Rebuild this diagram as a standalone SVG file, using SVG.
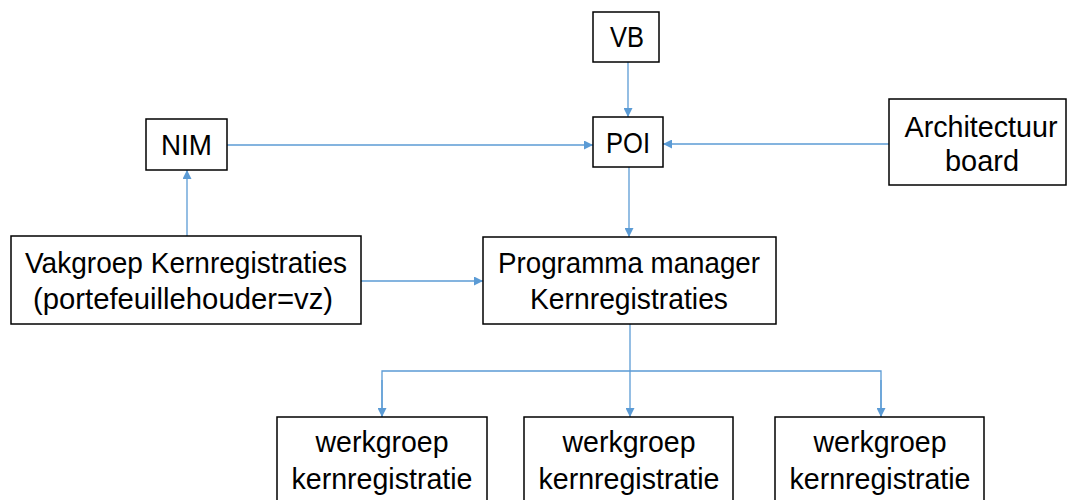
<svg xmlns="http://www.w3.org/2000/svg" width="1068" height="500" viewBox="0 0 1068 500">
<style>
.box{fill:#fff;stroke:#000;stroke-width:1.5}
.lbl{font-family:"Liberation Sans",Arial,sans-serif;font-size:29px;fill:#000;text-anchor:middle}
.con{fill:none;stroke:#5B9BD5;stroke-width:1.3}
</style>
<defs>
<marker id="ah" viewBox="0 0 10 10" refX="10" refY="5" markerWidth="10" markerHeight="9" markerUnits="userSpaceOnUse" orient="auto">
<path d="M0,0 L10,5 L0,10 Z" fill="#5B9BD5"/>
</marker>
</defs>
<rect width="1068" height="500" fill="#fff"/>
<g id="connectors">
<line class="con" x1="628" y1="62" x2="628" y2="117" marker-end="url(#ah)"/>
<line class="con" x1="227" y1="145" x2="593" y2="145" marker-end="url(#ah)"/>
<line class="con" x1="889" y1="144" x2="663" y2="144" marker-end="url(#ah)"/>
<line class="con" x1="629" y1="167" x2="629" y2="237" marker-end="url(#ah)"/>
<line class="con" x1="187" y1="236" x2="187" y2="170" marker-end="url(#ah)"/>
<line class="con" x1="361" y1="281" x2="483" y2="281" marker-end="url(#ah)"/>
<line class="con" x1="630" y1="324" x2="630" y2="417" marker-end="url(#ah)"/>
<polyline class="con" points="382,417 382,371 881,371 881,417"/>
<line class="con" x1="382" y1="380" x2="382" y2="417" marker-end="url(#ah)"/>
<line class="con" x1="881" y1="380" x2="881" y2="417" marker-end="url(#ah)"/>
</g>
<g id="vb">
<rect class="box" x="593" y="12" width="66" height="50"/>
<text class="lbl" x="627" y="47" textLength="34" lengthAdjust="spacingAndGlyphs">VB</text>
</g>
<g id="poi">
<rect class="box" x="593" y="117" width="70" height="50"/>
<text class="lbl" x="628" y="153" textLength="44" lengthAdjust="spacingAndGlyphs">POI</text>
</g>
<g id="nim">
<rect class="box" x="146" y="119" width="81" height="51"/>
<text class="lbl" x="186.5" y="155" textLength="51" lengthAdjust="spacingAndGlyphs">NIM</text>
</g>
<g id="architectuur">
<rect class="box" x="889" y="99" width="177" height="86"/>
<text class="lbl" x="981" y="137" textLength="153" lengthAdjust="spacingAndGlyphs">Architectuur</text>
<text class="lbl" x="982" y="171" textLength="74" lengthAdjust="spacingAndGlyphs">board</text>
</g>
<g id="vakgroep">
<rect class="box" x="11" y="236" width="350" height="88"/>
<text class="lbl" x="186" y="273" textLength="322" lengthAdjust="spacingAndGlyphs">Vakgroep Kernregistraties</text>
<text class="lbl" x="183" y="309" textLength="300" lengthAdjust="spacingAndGlyphs">(portefeuillehouder=vz)</text>
</g>
<g id="programma">
<rect class="box" x="483" y="237" width="293" height="87"/>
<text class="lbl" x="629" y="273" textLength="262" lengthAdjust="spacingAndGlyphs">Programma manager</text>
<text class="lbl" x="629" y="309" textLength="198" lengthAdjust="spacingAndGlyphs">Kernregistraties</text>
</g>
<g id="werkgroep1">
<rect class="box" x="277" y="417" width="210" height="95"/>
<text class="lbl" x="382" y="452" textLength="133" lengthAdjust="spacingAndGlyphs">werkgroep</text>
<text class="lbl" x="382" y="489" textLength="181" lengthAdjust="spacingAndGlyphs">kernregistratie</text>
</g>
<g id="werkgroep2">
<rect class="box" x="524" y="417" width="209" height="95"/>
<text class="lbl" x="629" y="452" textLength="133" lengthAdjust="spacingAndGlyphs">werkgroep</text>
<text class="lbl" x="629" y="489" textLength="181" lengthAdjust="spacingAndGlyphs">kernregistratie</text>
</g>
<g id="werkgroep3">
<rect class="box" x="775" y="417" width="209" height="95"/>
<text class="lbl" x="880" y="452" textLength="133" lengthAdjust="spacingAndGlyphs">werkgroep</text>
<text class="lbl" x="880" y="489" textLength="181" lengthAdjust="spacingAndGlyphs">kernregistratie</text>
</g>
</svg>
